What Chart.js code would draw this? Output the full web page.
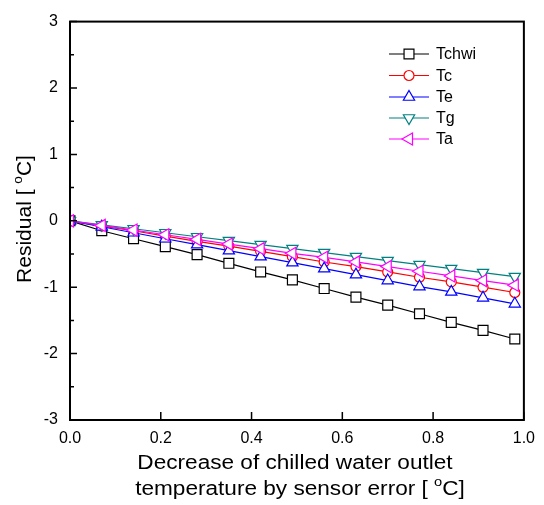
<!DOCTYPE html>
<html>
<head>
    <title>Residual</title>
    <script src="https://cdn.jsdelivr.net/npm/chart.js@4.4.0/dist/chart.umd.min.js"></script>
    <style>
        body { margin: 0; background: #fff; }
    </style>
</head>
<body>
    <canvas id="myChart" width="544" height="505"></canvas>
</body>
<script>
    // sensor error steps (x) and residuals of each variable
    const errorSteps = [0, 0.07, 0.14, 0.21, 0.28, 0.35, 0.42, 0.49, 0.56, 0.63, 0.70, 0.77, 0.84, 0.91, 0.98];
    const tchwi = [0, -0.15, -0.27, -0.39, -0.51, -0.64, -0.77, -0.89, -1.02, -1.15, -1.27, -1.40, -1.53, -1.65, -1.78];
    const tc    = [0, -0.08, -0.15, -0.23, -0.31, -0.38, -0.46, -0.54, -0.62, -0.69, -0.77, -0.85, -0.92, -1.00, -1.08];
    const te    = [0, -0.09, -0.18, -0.27, -0.36, -0.45, -0.54, -0.63, -0.72, -0.81, -0.90, -0.99, -1.07, -1.16, -1.25];
    const tg    = [0, -0.06, -0.12, -0.18, -0.24, -0.30, -0.36, -0.42, -0.48, -0.54, -0.60, -0.66, -0.72, -0.78, -0.84];
    const ta    = [0, -0.07, -0.14, -0.21, -0.28, -0.35, -0.42, -0.49, -0.55, -0.62, -0.69, -0.76, -0.83, -0.90, -0.97];

    const xTicks = [0, 0.2, 0.4, 0.6, 0.8, 1.0];
    const yTicks = [-3, -2, -1, 0, 1, 2, 3];

    const FONT = "'Liberation Sans', Arial, sans-serif";

    function pts(ys) {
        return ys.map((y, i) => ({x: errorSteps[i], y: y}));
    }

    function series(label, ys, color, style, rotation, radius, order) {
        return {
            label: label,
            data: pts(ys),
            borderColor: color,
            borderWidth: 1.2,
            pointStyle: style,
            rotation: rotation,
            pointRadius: radius,
            pointBorderColor: color,
            pointBackgroundColor: '#fff',
            pointBorderWidth: 1.2,
            order: order
        };
    }

    const datasets = [
        series('Tchwi', tchwi, '#000000', 'rect', 0, 7, 5),
        series('Tc', tc, '#ff0000', 'circle', 0, 5, 4),
        series('Te', te, '#0000ff', 'triangle', 0, 6.5, 3),
        series('Tg', tg, '#008080', 'triangle', 180, 6.5, 2),
        series('Ta', ta, '#ff00ff', 'triangle', -90, 7, 1)
    ];

    // draw text with a raised small "o" (degree sign style)
    function drawParts(ctx, parts, size) {
        let w = 0;
        parts.forEach(p => {
            ctx.font = (p.sup ? size * 0.65 : size) + 'px ' + FONT;
            p.w = ctx.measureText(p.t).width;
            w += p.w;
        });
        let x = -w / 2;
        parts.forEach(p => {
            ctx.font = (p.sup ? size * 0.65 : size) + 'px ' + FONT;
            ctx.fillText(p.t, x, p.sup ? -size * 0.45 : 0);
            x += p.w;
        });
    }

    const framePlugin = {
        id: 'frame',
        afterDraw(chart) {
            const ctx = chart.ctx;
            const a = chart.chartArea;
            const xs = chart.scales.x, ys = chart.scales.y;
            ctx.save();
            ctx.strokeStyle = '#000';
            ctx.fillStyle = '#000';

            // box
            ctx.lineWidth = 2;
            ctx.strokeRect(a.left, a.top, a.right - a.left, a.bottom - a.top);

            // inward ticks
            ctx.lineWidth = 1.5;
            ctx.beginPath();
            yTicks.forEach(v => {
                const py = ys.getPixelForValue(v);
                ctx.moveTo(a.left, py); ctx.lineTo(a.left + 7, py);
                if (v < 3) {
                    const pm = ys.getPixelForValue(v + 0.5);
                    ctx.moveTo(a.left, pm); ctx.lineTo(a.left + 4, pm);
                }
            });
            xTicks.forEach(v => {
                const px = xs.getPixelForValue(v);
                ctx.moveTo(px, a.bottom); ctx.lineTo(px, a.bottom - 8);
            });
            ctx.stroke();

            // legend
            const rows = [54, 75.5, 97, 118, 139];
            chart.data.datasets.forEach((ds, i) => {
                const y = rows[i];
                ctx.strokeStyle = ds.borderColor;
                ctx.lineWidth = 1.2;
                ctx.beginPath();
                ctx.moveTo(389, y); ctx.lineTo(429, y);
                ctx.stroke();
                ctx.fillStyle = '#fff';
                Chart.helpers.drawPoint(ctx, {
                    pointStyle: ds.pointStyle,
                    rotation: ds.rotation,
                    radius: ds.pointRadius,
                    borderWidth: 1.2
                }, 409, y);
                ctx.fillStyle = '#000';
                ctx.font = '16px ' + FONT;
                ctx.textBaseline = 'middle';
                ctx.textAlign = 'left';
                ctx.fillText(ds.label, 436, y + 1);
            });

            // axis titles
            ctx.fillStyle = '#000';
            ctx.textBaseline = 'alphabetic';
            ctx.textAlign = 'left';

            ctx.save();
            ctx.translate(295, 469);
            ctx.scale(1.13, 1);
            drawParts(ctx, [{t: 'Decrease of chilled water outlet'}], 20);
            ctx.restore();

            ctx.save();
            ctx.translate(300, 495);
            ctx.scale(1.13, 1);
            drawParts(ctx, [{t: 'temperature by sensor error [ '}, {t: 'o', sup: true}, {t: 'C]'}], 20);
            ctx.restore();

            ctx.save();
            ctx.translate(31, 219);
            ctx.rotate(-Math.PI / 2);
            ctx.scale(1.05, 1);
            drawParts(ctx, [{t: 'Residual [ '}, {t: 'o', sup: true}, {t: 'C]'}], 20);
            ctx.restore();

            ctx.restore();
        }
    };

    const myChart = new Chart(document.getElementById('myChart'), {
        type: 'line',
        data: {datasets: datasets},
        options: {
            responsive: false,
            animation: false,
            layout: {padding: {top: 14, right: 12, left: 0, bottom: 0}},
            plugins: {legend: {display: false}, tooltip: {enabled: false}},
            scales: {
                x: {
                    type: 'linear',
                    min: 0,
                    max: 1,
                    afterBuildTicks: s => { s.ticks = xTicks.map(v => ({value: v})); },
                    afterFit: s => { s.height = 85; },
                    grid: {display: false, drawTicks: false},
                    border: {display: false},
                    ticks: {
                        padding: 9,
                        color: '#000',
                        font: {family: FONT, size: 16},
                        callback: v => v.toFixed(1)
                    }
                },
                y: {
                    min: -3,
                    max: 3,
                    afterBuildTicks: s => { s.ticks = yTicks.map(v => ({value: v})); },
                    afterFit: s => { s.width = 70; },
                    grid: {display: false, drawTicks: false},
                    border: {display: false},
                    ticks: {
                        padding: 12,
                        color: '#000',
                        font: {family: FONT, size: 16},
                        callback: v => String(v)
                    }
                }
            }
        },
        plugins: [framePlugin]
    });
</script>
</html>
